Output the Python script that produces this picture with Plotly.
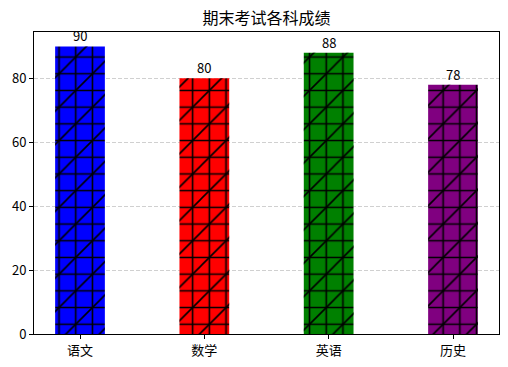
import plotly.graph_objects as go

subjects = ["语文", "数学", "英语", "历史"]
scores = [90, 80, 88, 78]
colors = ["blue", "red", "green", "purple"]
y_ticks = [0, 20, 40, 60, 80]

FONT = "Noto Sans CJK SC, sans-serif"
GRID_SIZE = 16.7          # spacing of the "+" hatch
LINE_W = 1.6              # hatch line width (px)
DIAG_SIZE = 33.4 / 2 ** 0.5

fig = go.Figure()
for subj, val, col in zip(subjects, scores, colors):
    # base bar with grid hatch
    fig.add_trace(go.Bar(
        x=[subj], y=[val], width=0.4,
        marker=dict(color=col, line=dict(width=0),
                    pattern=dict(shape="+", fgcolor="black", bgcolor=col, fgopacity=1,
                                 fillmode="replace", size=GRID_SIZE,
                                 solidity=1 - (1 - LINE_W / GRID_SIZE) ** 2)),
        showlegend=False,
    ))
    # diagonal hatch overlay
    fig.add_trace(go.Bar(
        x=[subj], y=[val], width=0.4,
        marker=dict(color="rgba(0,0,0,0)", line=dict(width=0),
                    pattern=dict(shape="/", fgcolor="black", bgcolor="rgba(0,0,0,0)",
                                 fgopacity=1, fillmode="replace", size=DIAG_SIZE,
                                 solidity=LINE_W / DIAG_SIZE)),
        showlegend=False, hoverinfo="skip",
    ))
    fig.add_annotation(x=subj, y=val, text=str(val), showarrow=False,
                       yanchor="bottom", yshift=-1,
                       font=dict(size=13, color="black", family=FONT))

fig.update_layout(
    width=508, height=367,
    margin=dict(l=34, r=9, t=32, b=33),
    paper_bgcolor="white", plot_bgcolor="white",
    barmode="overlay",
    font=dict(family=FONT, size=13, color="black"),
    title=dict(text="期末考试各科成绩", x=(34 + 499) / 2 / 508, xanchor="center",
               y=1 - 18 / 367, yanchor="middle",
               font=dict(size=16, family=FONT, color="black")),
)
fig.update_xaxes(
    categoryorder="array", categoryarray=subjects,
    range=[-0.37, 3.37], showline=True, linecolor="black", linewidth=1, mirror=True,
    ticks="outside", ticklen=4, tickcolor="black", showgrid=False,
    tickfont=dict(size=13, family=FONT),
)
fig.update_yaxes(
    range=[0, 94.5], tickvals=y_ticks, showline=True, linecolor="black", linewidth=1,
    mirror=True, ticks="outside", ticklen=4, tickcolor="black",
    showgrid=True, gridcolor="#d0d0d0", griddash="4px,2px", gridwidth=1,
    zeroline=False, tickfont=dict(size=13, family=FONT),
)

fig.write_html("out.html", config={"displayModeBar": False},
               post_script="document.body.style.margin='0';")
